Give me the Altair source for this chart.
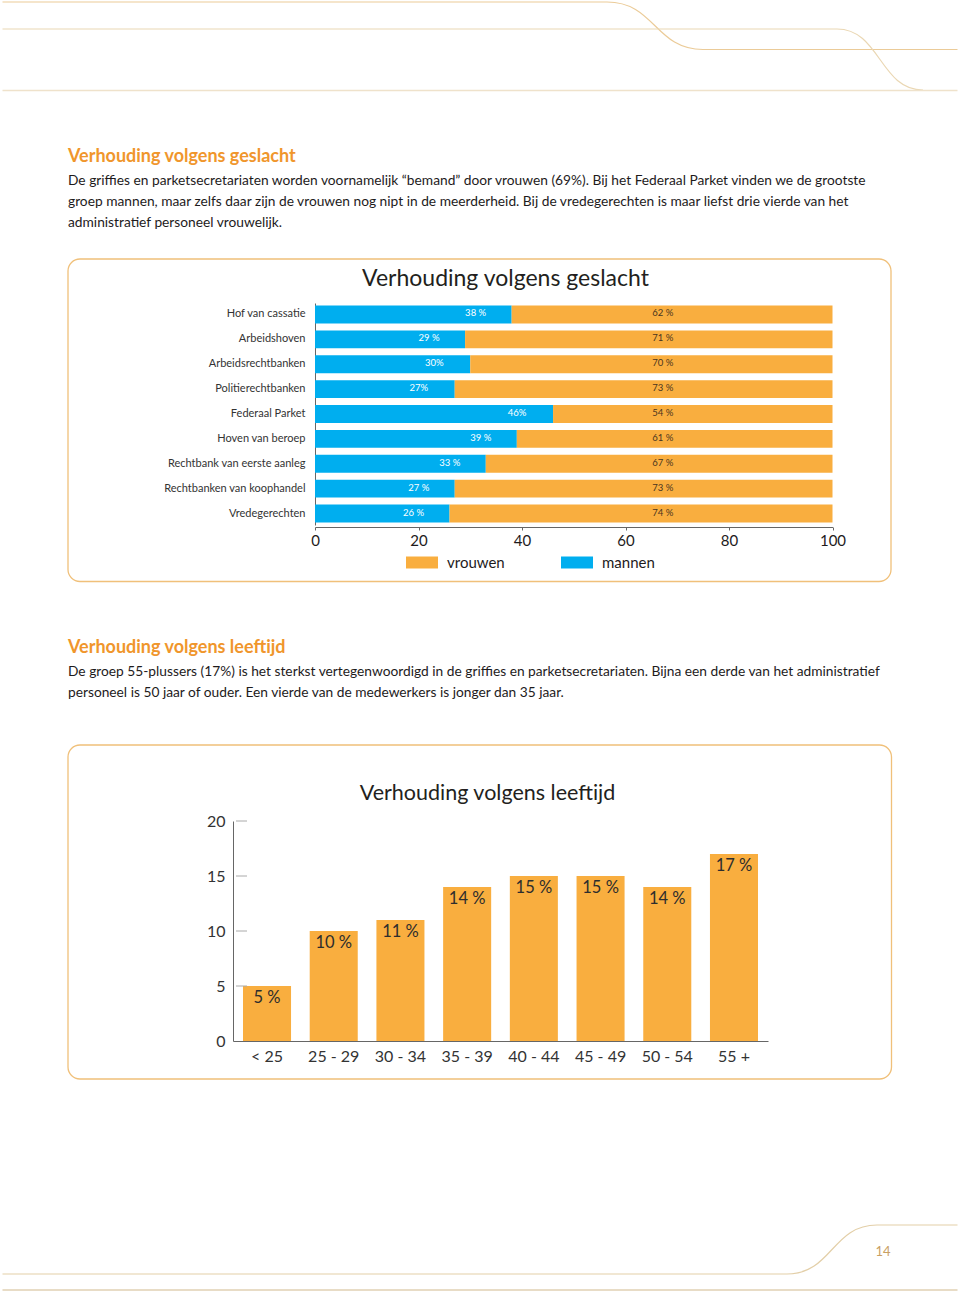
import altair as alt
import pandas as pd

# ---------------- data ----------------
categories = ["Hof van cassatie", "Arbeidshoven", "Arbeidsrechtbanken", "Politierechtbanken",
              "Federaal Parket", "Hoven van beroep", "Rechtbank van eerste aanleg",
              "Rechtbanken van koophandel", "Vredegerechten"]
mannen = [38, 29, 30, 27, 46, 39, 33, 27, 26]
vrouwen = [62, 71, 70, 73, 54, 61, 67, 73, 74]
mannen_labels = ["38 %", "29 %", "30%", "27%", "46%", "39 %", "33 %", "27 %", "26 %"]
vrouwen_labels = ["62 %", "71 %", "70 %", "73 %", "54 %", "61 %", "67 %", "73 %", "74 %"]
gender_ticks = [0, 20, 40, 60, 80, 100]

ages = ["< 25", "25 - 29", "30 - 34", "35 - 39", "40 - 44", "45 - 49", "50 - 54", "55 +"]
age_pct = [5, 10, 11, 14, 15, 15, 14, 17]
age_labels = ["5 %", "10 %", "11 %", "14 %", "15 %", "15 %", "14 %", "17 %"]
age_ticks = [5, 10, 15, 20]

sec1_title = "Verhouding volgens geslacht"
sec1_body = [
    "De griffies en parketsecretariaten worden voornamelijk \u201cbemand\u201d door vrouwen (69%). Bij het Federaal Parket vinden we de grootste",
    "groep mannen, maar zelfs daar zijn de vrouwen nog nipt in de meerderheid.  Bij de vredegerechten is maar liefst drie vierde van het",
    "administratief personeel vrouwelijk.",
]
sec2_title = "Verhouding volgens leeftijd"
sec2_body = [
    "De groep 55-plussers (17%) is het sterkst vertegenwoordigd in de griffies en parketsecretariaten. Bijna een derde van het administratief",
    "personeel is 50 jaar of ouder. Een vierde van de medewerkers is jonger dan 35 jaar.",
]
chart1_title = "Verhouding volgens geslacht"
chart2_title = "Verhouding volgens leeftijd"
page_number = "14"

# ---------------- style ----------------
ORANGE = "#F9AE3F"
BLUE = "#00AEEF"
HEAD = "#F0962C"
BOX = "#F0C07A"
DECOR = "#EAD7B3"
TXT = "#1E1B1C"
AXIS = "#666666"
BODY_FONT = "Lato"
CHART_FONT = "Lato"

one = pd.DataFrame({"k": [0]})


def path_mark(path, color, width=1.2):
    return alt.Chart(one).mark_point(
        shape=path, size=4, filled=False, stroke=color, strokeWidth=width, opacity=1,
        strokeJoin="round", strokeCap="butt"
    ).encode(x=alt.value(0), y=alt.value(0))


def text_mark(lines, x, y, size, color, font, weight="normal", align="left", lh=21):
    return alt.Chart(one).mark_text(
        align=align, baseline="alphabetic", fontSize=size, font=font,
        fontWeight=weight, color=color, lineHeight=lh
    ).encode(x=alt.value(x), y=alt.value(y), text=alt.value(lines))


def box_mark(x1, x2, y1, y2):
    return alt.Chart(one).mark_rect(
        cornerRadius=12, fillOpacity=0, stroke=BOX, strokeWidth=1.3, strokeJoin="round"
    ).encode(x=alt.value(x1), x2=alt.value(x2), y=alt.value(y1), y2=alt.value(y2))


decor = [
    path_mark("M2.5,2L607,2C655,2 655,49.5 703,49.5L957.5,49.5", "#EBCB98"),
    path_mark("M2.5,29L837,29C880,29 880,90 923,90", DECOR),
    path_mark("M2.5,90.5L957.5,90.5", "#EFE2CB", 1.5),
    path_mark("M2.5,1274L787,1274C832,1274 832,1225 877,1225L957.5,1225", "#E3CFA8"),
    path_mark("M2.5,1290L957.5,1290", "#E8DCC6", 1.8),
    box_mark(68, 891, 259, 581.5),
    box_mark(68, 891.5, 745, 1079),
    text_mark(sec1_title, 68, 162, 18, HEAD, BODY_FONT, weight="bold"),
    text_mark(sec1_body, 68, 185, 13.75, TXT, BODY_FONT),
    text_mark(sec2_title, 68, 653, 18, HEAD, BODY_FONT, weight="bold"),
    text_mark(sec2_body, 68, 676, 13.75, TXT, BODY_FONT),
    text_mark(chart1_title, 505.5, 286, 23, "#231F20", CHART_FONT, align="center"),
    text_mark(chart2_title, 487.5, 800, 21.5, "#231F20", CHART_FONT, align="center"),
    text_mark(page_number, 883, 1256, 13, "#C9A063", CHART_FONT, align="center"),
]

# ---------------- chart 1: gender ----------------
df1 = pd.DataFrame({
    "categorie": categories, "mannen": mannen, "vrouwen": vrouwen,
    "lab_m": mannen_labels, "lab_v": vrouwen_labels,
})

x1_scale = alt.Scale(domain=[0, 100], range=[315, 832.5], nice=False)
y1_scale = alt.Scale(range=[303, 525], paddingInner=0.28, paddingOuter=0.1)
x1_axis = alt.Axis(title=None, values=gender_ticks, tickSize=3, tickColor=AXIS, domainColor=AXIS,
                   labelFontSize=15, labelColor=TXT, labelPadding=3, grid=False, labelFlush=False,
                   labelFont=CHART_FONT)
y1_axis = alt.Axis(title=None, offset=-315, ticks=False, domainColor=AXIS, labelFontSize=11,
                   labelColor="#333333", labelPadding=10, grid=False, labelFont=CHART_FONT)

Y1 = alt.Y("categorie:N", sort=categories, scale=y1_scale, axis=y1_axis)

bars1 = alt.Chart(df1).transform_fold(
    ["mannen", "vrouwen"], as_=["geslacht", "pct"]
).transform_calculate(
    ord="datum.geslacht == 'mannen' ? 0 : 1"
).mark_bar().encode(
    y=Y1,
    x=alt.X("pct:Q", stack="zero", scale=x1_scale, axis=x1_axis),
    color=alt.Color(
        "geslacht:N",
        scale=alt.Scale(domain=["vrouwen", "mannen"], range=[ORANGE, BLUE]),
        legend=alt.Legend(
            title=None, orient="none", legendX=406, legendY=546.5, direction="horizontal",
            symbolType="M-1,-0.375L1,-0.375L1,0.375L-1,0.375Z", symbolSize=1024,
            symbolStrokeWidth=0, symbolOpacity=1, labelFontSize=15, labelFont=CHART_FONT,
            labelColor=TXT, labelOffset=9, columnPadding=56,
        ),
    ),
    order=alt.Order("ord:Q"),
)

lab_m = alt.Chart(df1).mark_text(
    color="white", fontSize=9.5, font=CHART_FONT, align="center", baseline="middle", dx=-36, dy=-1
).encode(y=Y1, x=alt.X("mannen:Q", scale=x1_scale, axis=x1_axis), text="lab_m:N")

lab_v = alt.Chart(df1).mark_text(
    color="#4A3520", fontSize=9.5, font=CHART_FONT, align="center", baseline="middle", dy=-1
).encode(y=Y1, x=alt.datum(67.2, scale=x1_scale, axis=x1_axis), text="lab_v:N")

child1 = alt.layer(*decor, bars1, lab_m, lab_v).properties(width=960, height=527)

# ---------------- chart 2: age ----------------
df2 = pd.DataFrame({"leeftijd": ages, "pct": age_pct, "lab": age_labels})
df_ticks = pd.DataFrame({"pct": age_ticks})

x2_scale = alt.Scale(range=[233, 768], paddingInner=0.28, paddingOuter=0.15)
y2_scale = alt.Scale(domain=[0, 20], range=[514, 294], nice=False)
x2_axis = alt.Axis(title=None, labelAngle=0, ticks=False, domainColor=AXIS, labelFontSize=16,
                   labelColor="#333333", labelPadding=7, grid=False, labelFont=CHART_FONT)
y2_axis = alt.Axis(title=None, values=[0, 5, 10, 15, 20], offset=-233, ticks=False, domainColor=AXIS,
                   labelFontSize=16, labelColor="#333333", labelPadding=8, grid=False,
                   labelFont=CHART_FONT)

X2 = alt.X("leeftijd:N", sort=ages, scale=x2_scale, axis=x2_axis)
Y2 = alt.Y("pct:Q", scale=y2_scale, axis=y2_axis)

bars2 = alt.Chart(df2).mark_bar(color=ORANGE).encode(x=X2, y=Y2)
lab2 = alt.Chart(df2).mark_text(
    color="#2D2D2D", fontSize=16.5, font=CHART_FONT, align="center", baseline="middle", dy=12
).encode(x=X2, y=Y2, text="lab:N")
ticks2 = alt.Chart(df_ticks).mark_rule(color="#AAAAAA", strokeWidth=1).encode(
    y=Y2, x=alt.value(236), x2=alt.value(247)
)

child2 = alt.layer(bars2, lab2, ticks2).properties(width=960, height=514)

chart = alt.vconcat(
    child1, child2, spacing=0, bounds="flush", padding=0, background="white"
).configure_view(stroke="transparent", strokeWidth=0)

chart.save("out.html", embed_options={"renderer": "svg", "actions": False})
